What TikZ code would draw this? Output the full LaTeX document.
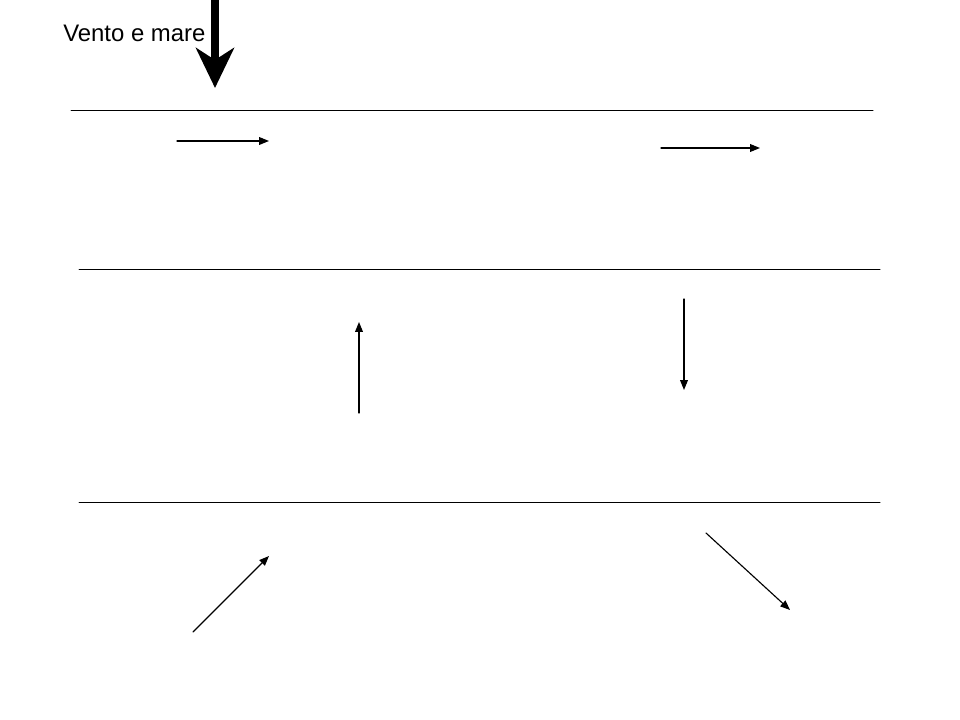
\documentclass[tikz,border=0pt]{standalone}
\usepackage{fontspec}
\setmainfont{Liberation Sans}
\usetikzlibrary{arrows.meta}
\tikzset{
    flow/.style={line width=0.8pt,-{Triangle[length=7pt,width=5.5pt]}},
    layer/.style={line width=0.7pt}
}

\begin{document}
\begin{tikzpicture}[line cap=round,line join=round,x=0.025cm,y=-0.025cm]
                \useasboundingbox (0,0) rectangle (960,720);
                % strati
                \coordinate (l1a) at (71,110);
                \coordinate (l1b) at (873,110);
                \coordinate (l2a) at (79,269);
                \coordinate (l2b) at (880,269);
                \coordinate (l3a) at (79,502);
                \coordinate (l3b) at (880,502);
                \draw [layer] (l1a)-- (l1b);
                \draw [layer] (l2a)-- (l2b);
                \draw [layer] (l3a)-- (l3b);
                % vento
                \node [anchor=base west,inner sep=0pt,font=\fontsize{17}{20}\selectfont] (vento) at (63,42) {Vento e mare};
                \coordinate (ventoA) at (215,-2);
                \coordinate (ventoB) at (215,88);
                \draw [line width=5pt,line cap=butt,-{Stealth[length=1cm,width=0.95cm,inset=0.3cm]}] (ventoA)-- (ventoB);
                % correnti
                \coordinate (s1) at (177,141);
                \coordinate (t1) at (269,141);
                \coordinate (s2) at (661,148);
                \coordinate (t2) at (760,148);
                \coordinate (s3) at (359,413);
                \coordinate (t3) at (359,322);
                \coordinate (s4) at (684,299);
                \coordinate (t4) at (684,390);
                \coordinate (s5) at (193,632);
                \coordinate (t5) at (269,556);
                \coordinate (s6) at (706,533);
                \coordinate (t6) at (790,610);
                \draw [flow] (s1)-- (t1);
                \draw [flow] (s2)-- (t2);
                \draw [flow] (s3)-- (t3);
                \draw [flow] (s4)-- (t4);
                \draw [flow] (s5)-- (t5);
                \draw [flow] (s6)-- (t6);
\end{tikzpicture}
\end{document}
